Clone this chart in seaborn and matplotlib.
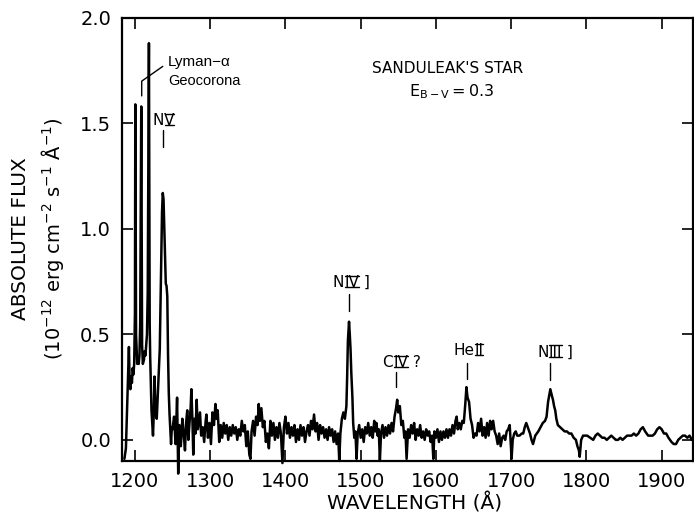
import matplotlib
matplotlib.use("Agg")
import matplotlib.pyplot as plt
from matplotlib.lines import Line2D
from matplotlib.transforms import IdentityTransform
import seaborn as sns
import pandas as pd

# ---- data ----
wl_blue = [1186, 1188, 1190, 1192, 1193, 1194, 1195, 1196, 1197, 1198, 1199, 1200,
           1200.5, 1201.5, 1203, 1204, 1205, 1206, 1207, 1208.4, 1209.5, 1210.5, 1212,
           1213, 1214, 1215, 1216, 1217, 1218.6, 1219.6, 1220.3, 1222, 1223, 1224, 1225,
           1226, 1227, 1228, 1229, 1230, 1231, 1232, 1233, 1234, 1235, 1236, 1237, 1238,
           1239, 1240, 1241, 1242, 1243, 1244, 1245, 1246, 1247, 1248, 1249]
fx_blue = [-0.09, -0.04, 0.20, 0.44, 0.26, 0.24, 0.30, 0.27, 0.34, 0.31, 0.36, 0.60,
           1.59, 0.50, 0.36, 0.38, 0.36, 0.40, 0.55, 1.58, 0.45, 0.36, 0.38,
           0.42, 0.40, 0.45, 0.50, 0.70, 1.88, 0.55, 0.39, 0.14, 0.08, 0.02, 0.12,
           0.30, 0.18, 0.12, 0.10, 0.18, 0.26, 0.34, 0.43, 0.65, 0.90, 1.08, 1.17, 1.14,
           1.00, 0.85, 0.74, 0.73, 0.68, 0.40, 0.22, 0.12, 0.05, -0.02, 0.06]

wl_mid1 = [1250, 1252, 1254, 1256, 1257.5, 1259, 1261, 1263, 1265, 1266.5, 1268, 1269.5,
           1271, 1272.5, 1274, 1275, 1276.5, 1277.5, 1279, 1280.5, 1282, 1283.5, 1285,
           1286.5, 1288, 1290, 1292, 1294, 1295, 1297, 1299, 1301, 1303, 1305, 1307,
           1308.5, 1310, 1312, 1314, 1316, 1318, 1320, 1322, 1324, 1326, 1328, 1330,
           1332, 1334, 1336, 1338, 1340, 1342, 1344, 1346, 1348, 1350, 1352, 1353.5,
           1355, 1357, 1359, 1361, 1363, 1364.5, 1366, 1368, 1370, 1372, 1374, 1376,
           1378, 1380, 1382, 1384, 1386, 1388, 1390, 1392, 1394, 1396, 1398, 1400]
fx_mid1 = [0.05, 0.11, -0.02, 0.20, -0.16, 0.07, -0.03, 0.10, 0.02, -0.05, 0.08, 0.14,
           0.00, 0.08, 0.15, 0.24, 0.08, -0.07, 0.10, 0.03, 0.19, 0.05, 0.09,
           0.13, 0.02, 0.06, -0.01, 0.09, 0.12, 0.01, 0.08, -0.02, 0.13, 0.07, 0.17,
           0.10, 0.14, -0.01, 0.07, 0.01, 0.08, 0.03, 0.07, 0.00, 0.06, 0.02, 0.07,
           0.03, 0.06, 0.00, 0.05, 0.02, 0.09, 0.04, 0.07, -0.03, 0.04, -0.07, -0.09,
           0.04, 0.09, 0.02, 0.11, 0.07, 0.17, 0.09, 0.15, 0.06, 0.09, -0.01, 0.03,
           -0.04, 0.09, 0.02, 0.08, 0.00, 0.06, 0.01, 0.08, 0.03, -0.11, 0.06, 0.11]

wl_mid2 = [1402, 1404, 1406, 1408, 1410, 1412, 1414, 1416, 1418, 1420, 1422, 1424, 1426,
           1428, 1430, 1432, 1434, 1436, 1438, 1440, 1442, 1444, 1446, 1448, 1450, 1452,
           1454, 1456, 1458, 1460, 1462, 1464, 1466, 1468, 1470, 1471.5, 1473, 1475,
           1477, 1479, 1481, 1482, 1483, 1484.5, 1485.5, 1486.5, 1487.5, 1489, 1490,
           1491.5, 1493, 1494.5, 1496, 1498, 1500, 1502, 1504, 1506, 1508, 1510, 1512,
           1514, 1516, 1518, 1519.5, 1521, 1522.5, 1524, 1525.5, 1527, 1529, 1531, 1533,
           1535, 1537, 1539, 1541, 1543, 1545, 1547, 1548.5, 1550, 1552, 1554, 1556,
           1558, 1559.5, 1561, 1563, 1565, 1567, 1569, 1571, 1573, 1575, 1577, 1579,
           1581, 1583, 1585, 1587, 1589, 1591, 1593, 1595, 1596.5, 1598, 1600]
fx_mid2 = [0.03, 0.08, 0.01, 0.06, 0.02, 0.07, -0.01, 0.05, 0.00, 0.07, 0.02, 0.06, -0.01,
           0.04, 0.07, 0.02, 0.09, 0.05, 0.12, 0.04, 0.08, 0.00, 0.07, 0.03, 0.06, 0.01,
           0.05, 0.00, 0.06, 0.02, 0.05, -0.01, 0.04, -0.02, 0.03, -0.10, 0.03, 0.10,
           0.13, 0.10, 0.16, 0.30, 0.47, 0.56, 0.50, 0.43, 0.32, 0.20, 0.08,
           0.01, 0.04, -0.09, 0.03, 0.07, 0.01, 0.05, -0.01, 0.06, 0.03, 0.08, 0.02,
           0.06, 0.01, 0.09, 0.04, 0.08, 0.02, 0.05, -0.10, 0.03, 0.07, 0.01, 0.06,
           0.02, 0.07, 0.03, 0.08, 0.04, 0.11, 0.15, 0.19, 0.13, 0.16, 0.07, 0.09,
           0.01, 0.04, -0.09, 0.05, 0.01, 0.07, 0.03, 0.08, 0.00, 0.05, 0.02, 0.07,
           0.01, 0.04, 0.00, 0.05, 0.02, 0.04, -0.01, 0.02, -0.09, 0.04, 0.01]

wl_red1 = [1602, 1604, 1606, 1608, 1610, 1612, 1614, 1616, 1618, 1620, 1622, 1624, 1626,
           1627.5, 1629, 1631, 1633, 1635, 1637, 1639, 1640.5, 1642, 1644, 1646, 1648,
           1650, 1652, 1654, 1656, 1658, 1660, 1662, 1664, 1666, 1668, 1670, 1672, 1674,
           1676, 1678, 1680, 1682, 1684, 1686, 1688, 1690, 1692, 1694, 1696, 1698, 1699,
           1700.5, 1702, 1704, 1706, 1708, 1711, 1714, 1716, 1718, 1720, 1722, 1725,
           1727, 1729, 1732, 1736, 1739, 1742, 1745, 1747, 1749, 1750.5, 1752, 1754,
           1755.5, 1757, 1758.5, 1760, 1762, 1765, 1768, 1771, 1774, 1777, 1780, 1783,
           1786, 1788, 1790, 1791, 1793, 1795.5, 1798]
fx_red1 = [0.05, -0.01, 0.04, 0.00, 0.04, 0.01, 0.05, 0.01, 0.05, 0.02, 0.07, 0.03, 0.09,
           0.11, 0.05, 0.08, 0.05, 0.09, 0.08, 0.17, 0.25, 0.20, 0.18, 0.10, 0.07,
           0.01, 0.03, 0.02, 0.08, 0.04, 0.10, 0.02, 0.06, 0.01, 0.08, 0.02, 0.09, 0.05,
           0.09, 0.04, 0.02, -0.02, 0.03, -0.03, 0.01, 0.02, 0.00, 0.04, 0.05, 0.07, 0.01,
           -0.09, 0.00, 0.03, 0.04, 0.02, 0.02, 0.03, 0.03, 0.06, 0.08, 0.06, 0.03,
           0.00, -0.02, 0.02, 0.04, 0.06, 0.08, 0.09, 0.11, 0.18, 0.21, 0.24, 0.21,
           0.19, 0.16, 0.14, 0.10, 0.07, 0.06, 0.05, 0.04, 0.04, 0.03, 0.03, 0.01,
           0.00, -0.03, -0.05, -0.08, 0.00, 0.02, 0.02]

wl_red2 = [1801, 1805, 1809, 1812, 1815, 1818, 1821, 1824, 1827, 1830, 1833, 1836, 1839,
           1842, 1845, 1848, 1851, 1854, 1857, 1860, 1863, 1866, 1869, 1872, 1875, 1878,
           1882, 1885, 1888, 1891, 1894, 1897, 1900, 1903, 1906, 1909, 1913, 1916, 1919,
           1922, 1925, 1928, 1931, 1934, 1937, 1940, 1943]
fx_red2 = [0.02, 0.01, 0.00, 0.02, 0.03, 0.02, 0.01, 0.01, 0.00, 0.01, 0.02, 0.01, 0.00,
           0.00, 0.01, 0.00, 0.01, 0.02, 0.02, 0.02, 0.03, 0.02, 0.03, 0.05, 0.06, 0.04,
           0.02, 0.02, 0.02, 0.03, 0.05, 0.06, 0.05, 0.03, 0.03, 0.01, -0.01, -0.02, -0.02,
           0.00, 0.01, 0.02, 0.02, 0.01, 0.02, 0.00, 0.00]

x_ticks = [1200, 1300, 1400, 1500, 1600, 1700, 1800, 1900]
y_ticks = [0.0, 0.5, 1.0, 1.5, 2.0]

# emission-line labels
ion_prefix = ["N", "N", "C", "He", "N"]
ion_stage = ["V", "IV", "IV", "II", "III"]
ion_suffix = ["", " ]", " ?", "", " ]"]
label_x = [1224, 1463, 1529, 1623, 1735]
label_y = [1.49, 0.725, 0.345, 0.40, 0.395]
line_wl = [1237, 1484.6, 1547.5, 1641, 1752]
tick_top = [1.47, 0.69, 0.32, 0.365, 0.365]
tick_bot = [1.39, 0.61, 0.25, 0.29, 0.285]

# ---- figure ----
sns.set_style("ticks")
plt.rcParams["font.family"] = ["DejaVu Sans"]
for k in ["text.color", "axes.labelcolor", "xtick.color", "ytick.color", "axes.edgecolor"]:
    plt.rcParams[k] = "black"

wl = wl_blue + wl_mid1 + wl_mid2 + wl_red1 + wl_red2
fx = fx_blue + fx_mid1 + fx_mid2 + fx_red1 + fx_red2
df = pd.DataFrame({"wavelength": wl, "flux": fx})

fig = plt.figure(figsize=(6.94, 5.25), dpi=100)
ax = fig.add_axes([0.176, 0.122, 0.823, 0.844])
sns.lineplot(data=df, x="wavelength", y="flux", sort=False, estimator=None,
             color="black", lw=1.8, ax=ax)
for l in ax.lines:
    l.set_clip_on(False)

ax.set_xlim(1183, 1942)
ax.set_ylim(-0.1, 2.0)
ax.set_xticks(x_ticks)
ax.set_yticks(y_ticks)
ax.set_yticklabels([f"{v:.1f}" for v in y_ticks])
ax.tick_params(direction="in", length=8, width=1.2, labelsize=14, pad=8,
               top=True, right=True)
for s in ax.spines.values():
    s.set_linewidth(1.6)
ax.set_xlabel("")
ax.set_ylabel("")

fig.text(0.598, 0.022, "WAVELENGTH (Å)", ha="center", va="bottom", fontsize=14.5)
fig.text(0.030, 0.545, "ABSOLUTE FLUX", rotation=90, ha="center", va="center", fontsize=14.5)
fig.text(0.075, 0.545, r"(10$^{-12}$ erg cm$^{-2}$ s$^{-1}$ Å$^{-1}$)", rotation=90,
         ha="center", va="center", fontsize=14)

# annotations
ax.text(1615, 1.76, "SANDULEAK'S STAR", ha="center", va="center", fontsize=11)
ax.text(1621, 1.65, r"E$_{\mathrm{B-V}}$$=$0.3", ha="center", va="center", fontsize=11.5)
ax.text(1244, 1.79, "Lyman\u2212\u03b1", ha="left", va="center", fontsize=11,
        family=["Liberation Sans"])
ax.text(1244, 1.70, "Geocorona", ha="left", va="center", fontsize=10.5,
        family=["Liberation Sans"])
ax.plot([1209, 1209, 1237], [1.63, 1.70, 1.77], color="black", lw=1.0)

FS = 11
numeral_texts = []
for pre, num, suf, tx, ty, lx, y0, y1 in zip(ion_prefix, ion_stage, ion_suffix, label_x,
                                             label_y, line_wl, tick_top, tick_bot):
    ax.plot([lx, lx], [y0, y1], color="black", lw=1.0)
    t1 = ax.text(tx, ty, pre, ha="left", va="baseline", fontsize=FS)
    t2 = ax.annotate(num, xy=(1, 0), xycoords=t1, ha="left", va="bottom", fontsize=FS)
    ax.annotate(suf, xy=(1, 0), xycoords=t2, ha="left", va="bottom", fontsize=FS)
    numeral_texts.append((t2, ty))

# horizontal serif bars above and below the roman numerals
fig.canvas.draw()
renderer = fig.canvas.get_renderer()
cap = 0.73 * FS * fig.dpi / 72.0
for t2, ty in numeral_texts:
    bb = t2.get_window_extent(renderer)
    yb = ax.transData.transform((1500, ty))[1]
    for yy in (yb, yb + cap):
        fig.add_artist(Line2D([bb.x0 + 0.5, bb.x1 - 0.5], [yy, yy], transform=IdentityTransform(),
                              color="black", lw=1.0))

fig.savefig("out.png", dpi=100)
